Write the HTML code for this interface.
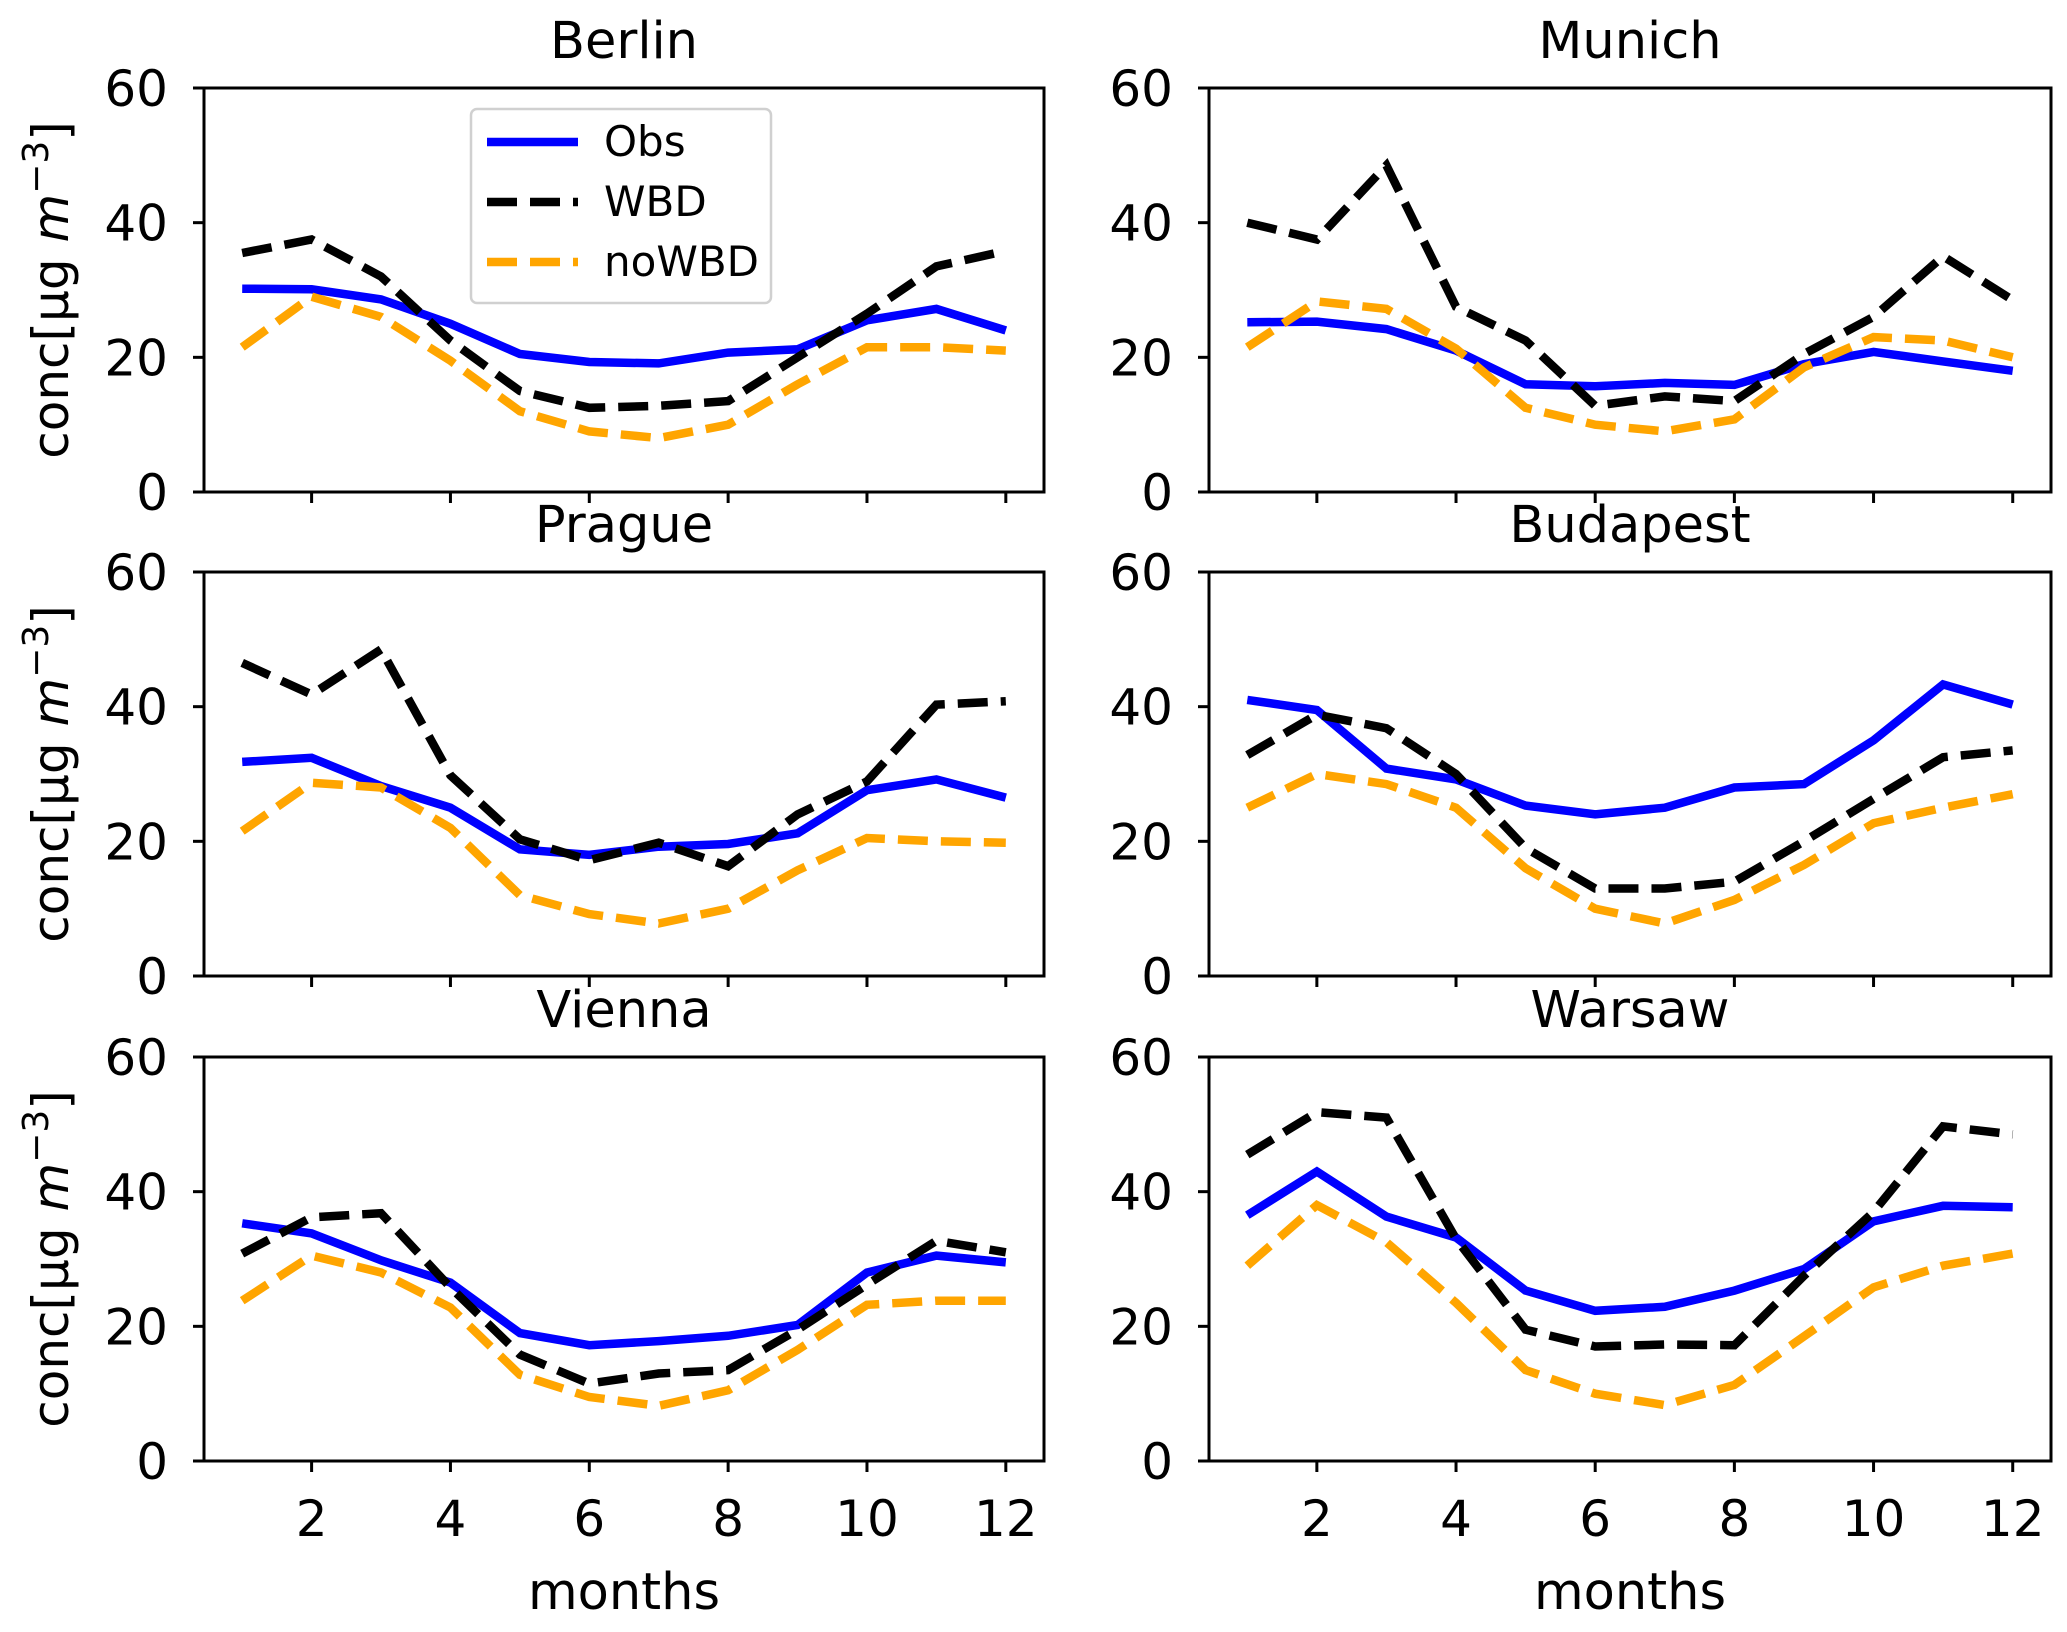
<!DOCTYPE html>
<html><head><meta charset="utf-8"><style>
html,body{margin:0;padding:0;background:#fff}
svg text{font-family:"DejaVu Sans","Liberation Sans",sans-serif;fill:#000}
</style></head><body>
<svg id="fig" width="2067" height="1627" viewBox="0 0 2067 1627" xmlns="http://www.w3.org/2000/svg"></svg>
<script>
const months = [1,2,3,4,5,6,7,8,9,10,11,12];
const cities = ["Berlin","Munich","Prague","Budapest","Vienna","Warsaw"];
const obsBerlin   = [30.2,30.1,28.6,25,20.5,19.3,19.1,20.7,21.2,25.5,27.2,24];
const wbdBerlin   = [35.5,37.5,32,22.5,15,12.5,12.8,13.5,20,26.5,33.5,35.8];
const nowbdBerlin = [21.5,29,26,19.5,12,9,8,10,16,21.5,21.5,21];
const obsMunich   = [25.2,25.3,24.2,21,16,15.7,16.2,15.9,19,20.8,19.4,18];
const wbdMunich   = [40,37.5,48.5,27.5,22.5,12.8,14.2,13.5,20.5,26,35,28.5];
const nowbdMunich = [21.5,28.3,27.2,21.3,12.5,10,9,10.8,18.5,23,22.5,20];
const obsPrague   = [31.8,32.4,28.2,25,18.8,18,19.2,19.6,21.2,27.6,29.2,26.5];
const wbdPrague   = [46.5,41.8,48.5,29.8,20.3,17.2,19.8,16.3,24,28.9,40.3,40.8];
const nowbdPrague = [21.5,28.7,28,22,12,9.2,7.8,10,15.7,20.5,20,19.8];
const obsBudapest   = [41,39.5,30.8,29.2,25.3,24,25,28,28.5,35,43.3,40.3];
const wbdBudapest   = [32.8,38.8,36.8,30,19,13,13,14,20,26.3,32.5,33.5];
const nowbdBudapest = [25,30,28.5,25,16,10,7.8,11.3,16.5,22.7,25,27];
const obsVienna   = [35.3,33.8,29.8,26.5,19,17.2,17.8,18.6,20.2,28,30.5,29.5];
const wbdVienna   = [30.8,36.2,36.8,25.8,15.8,11.5,13,13.5,19.5,26.2,32.7,31];
const nowbdVienna = [23.8,30.5,28,22.8,12.8,9.5,8.2,10.5,16.5,23.2,23.8,23.8];
const obsWarsaw   = [36.5,43,36.3,33.2,25.3,22.3,22.9,25.3,28.5,35.6,37.9,37.7];
const wbdWarsaw   = [45.5,51.8,51,33,19.5,17,17.3,17.2,27.5,37,49.7,48.5];
const nowbdWarsaw = [29,38,32.5,23.5,13.5,10,8.3,11.3,18.5,25.8,29,30.8];
const yTicks = [0,20,40,60];
const xTicks = [2,4,6,8,10,12];
const seriesNames = ["Obs","WBD","noWBD"];

const cityData = {
  Berlin:[obsBerlin,wbdBerlin,nowbdBerlin], Munich:[obsMunich,wbdMunich,nowbdMunich],
  Prague:[obsPrague,wbdPrague,nowbdPrague], Budapest:[obsBudapest,wbdBudapest,nowbdBudapest],
  Vienna:[obsVienna,wbdVienna,nowbdVienna], Warsaw:[obsWarsaw,wbdWarsaw,nowbdWarsaw]
};
const styles = [
  {stroke:"#0000ff", dash:null},
  {stroke:"#000000", dash:"30 13"},
  {stroke:"#ffa500", dash:"30 13"}
];
const NS = "http://www.w3.org/2000/svg";
const svg = document.getElementById("fig");
function mk(tag, attrs, parent){
  const e = document.createElementNS(NS, tag);
  for (const k in attrs) e.setAttribute(k, attrs[k]);
  (parent||svg).appendChild(e);
  return e;
}
const colX = [204, 1209], colW = [840, 842];
const rowY = [88, 572, 1057], H = 404;
const xmin = 0.45, xmax = 12.55, ymin = 0, ymax = 60;

cities.forEach((city, i) => {
  const c = i % 2, r = Math.floor(i / 2);
  const L = colX[c], W = colW[c], T = rowY[r];
  const xs = v => L + (v - xmin) / (xmax - xmin) * W;
  const ys = v => T + H - (v - ymin) / (ymax - ymin) * H;
  const g = mk("g", {});
  
  
  const clipId = "clip" + i;
  const cp = mk("clipPath", {id: clipId}, g);
  mk("rect", {x: L, y: T, width: W, height: H}, cp);
  const t = mk("text", {x: L + W / 2, y: T - 30, "font-size": 51, "text-anchor": "middle"}, g);
  t.textContent = city;
  
  
  const data = cityData[city];
  data.forEach((vals, si) => {
    const pts = vals.map((v, k) => xs(months[k]).toFixed(1) + "," + ys(v).toFixed(1)).join(" ");
    const a = {points: pts, fill: "none", stroke: styles[si].stroke, "stroke-width": 8.5, "clip-path": "url(#" + clipId + ")"};
    if (styles[si].dash) a["stroke-dasharray"] = styles[si].dash;
    const pl = mk("polyline", a, g);
    
    
  });
  const fr = mk("rect", {x: L, y: T, width: W, height: H, fill: "none", stroke: "#000", "stroke-width": 3}, g);
  
  
  yTicks.forEach(v => {
    const y = ys(v);
    mk("line", {x1: L - 11, x2: L, y1: y, y2: y, stroke: "#000", "stroke-width": 3}, g);
    const tl = mk("text", {x: L - 36, y: y + 18, "font-size": 50, "text-anchor": "end"}, g);
    tl.textContent = v;
    
    
  });
  xTicks.forEach(v => {
    const x = xs(v);
    mk("line", {x1: x, x2: x, y1: T + H, y2: T + H + 11, stroke: "#000", "stroke-width": 3}, g);
    if (r === 2) {
      const tl = mk("text", {x: x, y: T + H + 75, "font-size": 50, "text-anchor": "middle"}, g);
      tl.textContent = v;
      
      
    }
  });
  if (r === 2) {
    const xl = mk("text", {x: L + W / 2, y: T + H + 148, "font-size": 51, "text-anchor": "middle"}, g);
    xl.textContent = "months";
    
    
  }
  if (c === 0) {
    const yl = mk("text", {x: 0, y: 0, "font-size": 50, "text-anchor": "middle", transform: "translate(68," + (T + H / 2) + ") rotate(-90)"}, g);
    yl.innerHTML = 'conc[μg <tspan font-style="italic">m</tspan><tspan dy="-20" font-size="36">−3</tspan><tspan dy="20">]</tspan>';
    
    
  }
});

const lg = mk("g", {});


mk("rect", {x: 471, y: 109, width: 300, height: 194, rx: 6, fill: "#fff", "fill-opacity": 0.85, stroke: "#d0d0d0", "stroke-width": 2.5}, lg);
seriesNames.forEach((n, si) => {
  const y = 142 + si * 60;
  const a = {x1: 487, x2: 578, y1: y, y2: y, stroke: styles[si].stroke, "stroke-width": 8.5};
  if (styles[si].dash) a["stroke-dasharray"] = styles[si].dash;
  const ln = mk("line", a, lg);
  
  
  const tx = mk("text", {x: 604, y: y + 14, "font-size": 42}, lg);
  tx.textContent = n;
  
  
});
</script>
</body></html>
